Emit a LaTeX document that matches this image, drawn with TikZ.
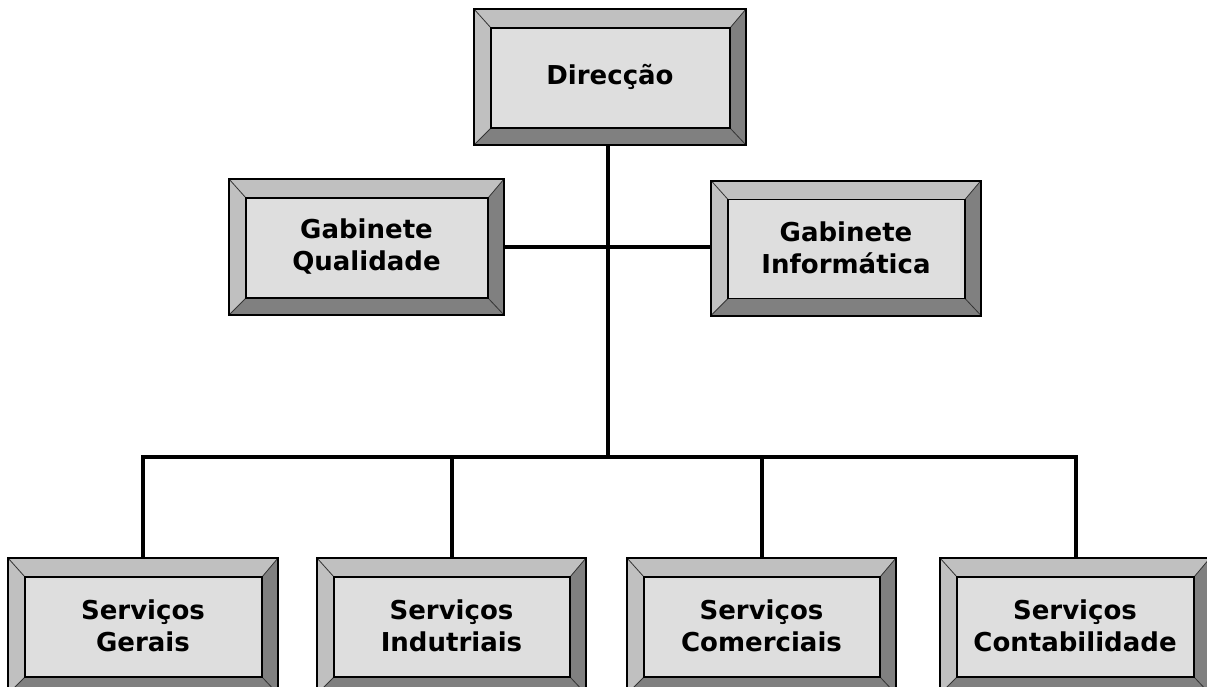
\documentclass[tikz,border=0pt]{standalone}
\usepackage{fontspec}
\setmainfont{DejaVu Sans}
\definecolor{bevlight}{HTML}{C0C0C0}
\definecolor{bevdark}{HTML}{808080}
\definecolor{innerfill}{HTML}{DEDEDE}
\tikzset{
  outerline/.style={draw=black, line width=2pt},
  innerline/.style={draw=black, line width=1.6pt, fill=innerfill},
  diag/.style={draw=black!80, line width=0.8pt},
  lbl/.style={draw=none, align=center, inner sep=0pt, font=\fontsize{26}{32}\selectfont\bfseries},
  conn/.style={draw=black, line width=4pt},
}
\newcommand\bevbox[6]{%
  \pgfmathsetmacro\xa{#2-#4/2}\pgfmathsetmacro\xb{#2+#4/2}%
  \pgfmathsetmacro\ya{#3-#5/2}\pgfmathsetmacro\yb{#3+#5/2}%
  \pgfmathsetmacro\xc{\xa+17}\pgfmathsetmacro\xd{\xb-16}%
  \pgfmathsetmacro\yc{\ya+19}\pgfmathsetmacro\yd{\yb-17}%
  \fill[bevlight] (\xa,\ya) rectangle (\xb,\yb);
  \fill[bevdark] (\xb,\ya) -- (\xd,\yc) -- (\xd,\yd) -- (\xc,\yd) -- (\xa,\yb) -- (\xb,\yb) -- cycle;
  \draw[diag] (\xa,\ya) -- (\xc,\yc) (\xb,\ya) -- (\xd,\yc) (\xa,\yb) -- (\xc,\yd) (\xb,\yb) -- (\xd,\yd);
  \path[innerline] (\xc,\yc) rectangle (\xd,\yd);
  \path[outerline] (\xa,\ya) rectangle (\xb,\yb);
  \node[lbl, minimum width=#4pt, minimum height=#5pt] (#1) at (#2,#3) {#6};
}
\begin{document}
\begin{tikzpicture}[x=1pt, y=-1pt]
\useasboundingbox (0,0) rectangle (1207,686);
\fill[white] (0,0) rectangle (1207,686);
% connectors first (behind boxes)
\coordinate (bus) at (608,457);
\coordinate (dirfoot) at (608,145);
\draw[conn] (dirfoot) -- (bus);
\coordinate (gqe) at (504,247);
\coordinate (gie) at (711,247);
\draw[conn] (gqe) -- (gie);
\coordinate (b1) at (143,457);
\coordinate (b2) at (452,457);
\coordinate (b3) at (762,457);
\coordinate (b4) at (1076,457);
\coordinate (t1) at (143,559);
\coordinate (t2) at (452,559);
\coordinate (t3) at (762,559);
\coordinate (t4) at (1076,559);
\draw[conn] (t1) -- (b1) -- (b4) -- (t4);
\draw[conn] (b2) -- (t2);
\draw[conn] (b3) -- (t3);
% boxes
\bevbox{dir}{610}{77}{272}{136}{Direcção}
\bevbox{gq}{366.5}{247}{275}{136}{Gabinete\\Qualidade}
\bevbox{gi}{846}{248}{270}{135}{Gabinete\\Informática}
\bevbox{sg}{143}{626}{270}{136}{Serviços\\Gerais}
\bevbox{si}{451.5}{626}{269}{136}{Serviços\\Indutriais}
\bevbox{sc}{761.5}{626}{269}{136}{Serviços\\Comerciais}
\bevbox{sct}{1075}{626}{270}{136}{Serviços\\Contabilidade}
\end{tikzpicture}
\end{document}
